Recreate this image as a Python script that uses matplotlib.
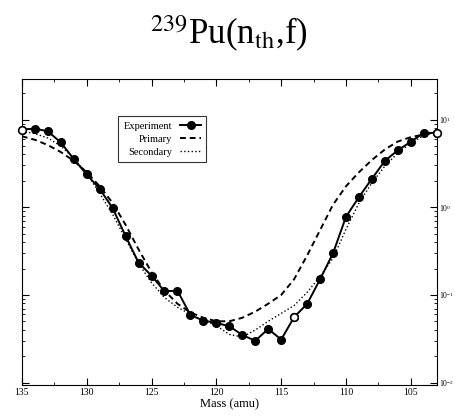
import numpy as np
import matplotlib
matplotlib.use("Agg")
import matplotlib.pyplot as plt
from matplotlib.ticker import MultipleLocator, LogLocator

plt.rcParams['font.family'] = ['Liberation Serif', 'DejaVu Serif']
plt.rcParams['mathtext.fontset'] = 'stix'

# mass numbers (amu)
mass = np.arange(135, 102, -1)

# fission yields (%)
experiment = [7.7, 7.9, 7.35, 5.5, 3.55, 2.37, 1.62, 0.98, 0.47, 0.234,
              0.166, 0.110, 0.112, 0.059, 0.051, 0.048, 0.044, 0.035, 0.030, 0.041,
              0.031, 0.056, 0.079, 0.151, 0.30, 0.78, 1.31, 2.12, 3.39, 4.47,
              5.6, 7.05, 7.05]
open_masses = [135, 114, 103]

primary_log = [0.81, 0.77, 0.71, 0.63, 0.53, 0.40, 0.24, 0.05, -0.20, -0.48,
               -0.74, -0.95, -1.10, -1.20, -1.26, -1.30, -1.30, -1.26, -1.19, -1.10,
               -1.00, -0.82, -0.55, -0.26, 0.03, 0.24, 0.40, 0.54, 0.66, 0.75,
               0.80, 0.83, 0.85]
secondary_log = [0.87, 0.84, 0.79, 0.70, 0.56, 0.39, 0.16, -0.08, -0.36, -0.64,
                 -0.86, -1.03, -1.14, -1.22, -1.29, -1.35, -1.45, -1.48, -1.40, -1.30,
                 -1.21, -1.12, -0.97, -0.79, -0.58, -0.25, 0.05, 0.28, 0.47, 0.62,
                 0.73, 0.82, 0.86]
primary = 10 ** np.array(primary_log)
secondary = 10 ** np.array(secondary_log)

fig = plt.figure(figsize=(4.55, 4.16), dpi=100)
ax = fig.add_axes([0.048, 0.0745, 0.912, 0.7355])

ax.plot(mass, experiment, "-o", color="black", lw=1.4, ms=5.5, label="Experiment")
is_open = np.isin(mass, open_masses)
ax.plot(mass[is_open], np.array(experiment)[is_open], "o", color="black",
        mfc="white", ms=5.5, mew=1.2, clip_on=False, zorder=3)
ax.plot(mass, primary, "--", color="black", lw=1.4, dashes=(3, 2), label="Primary")
ax.plot(mass, secondary, ":", color="black", lw=1.0, label="Secondary")

ax.set_yscale("log")
ax.set_xlim(135, 103)
ax.set_ylim(0.0094, 29)
ax.xaxis.set_major_locator(MultipleLocator(5))
ax.xaxis.set_minor_locator(MultipleLocator(2.5))
ax.yaxis.set_major_locator(LogLocator(base=10))
ax.yaxis.set_minor_locator(LogLocator(base=10, subs=np.arange(2, 10)))
ax.tick_params(direction="in", which="both", top=True, bottom=True,
               left=True, right=True, labelleft=False, labelright=True,
               labelsize=7, pad=2)
ax.tick_params(axis="y", labelsize=5.5, pad=1.5)
ax.tick_params(which="major", length=5, width=0.8)
ax.tick_params(which="minor", length=2.5, width=0.6)

ax.set_xlabel("Mass (amu)", fontsize=9, labelpad=1)
leg = ax.legend(loc="upper left", bbox_to_anchor=(0.22, 0.895), fontsize=7.5,
                markerfirst=False, fancybox=False, edgecolor="black",
                handlelength=2.0, borderpad=0.5, labelspacing=0.35)
leg.get_frame().set_linewidth(0.8)

fig.text(0.502, 0.918, r"$^{239}$Pu(n$_{\mathrm{th}}$,f)", ha="center", va="center",
         fontsize=25)

fig.savefig("out.png", dpi=100)
